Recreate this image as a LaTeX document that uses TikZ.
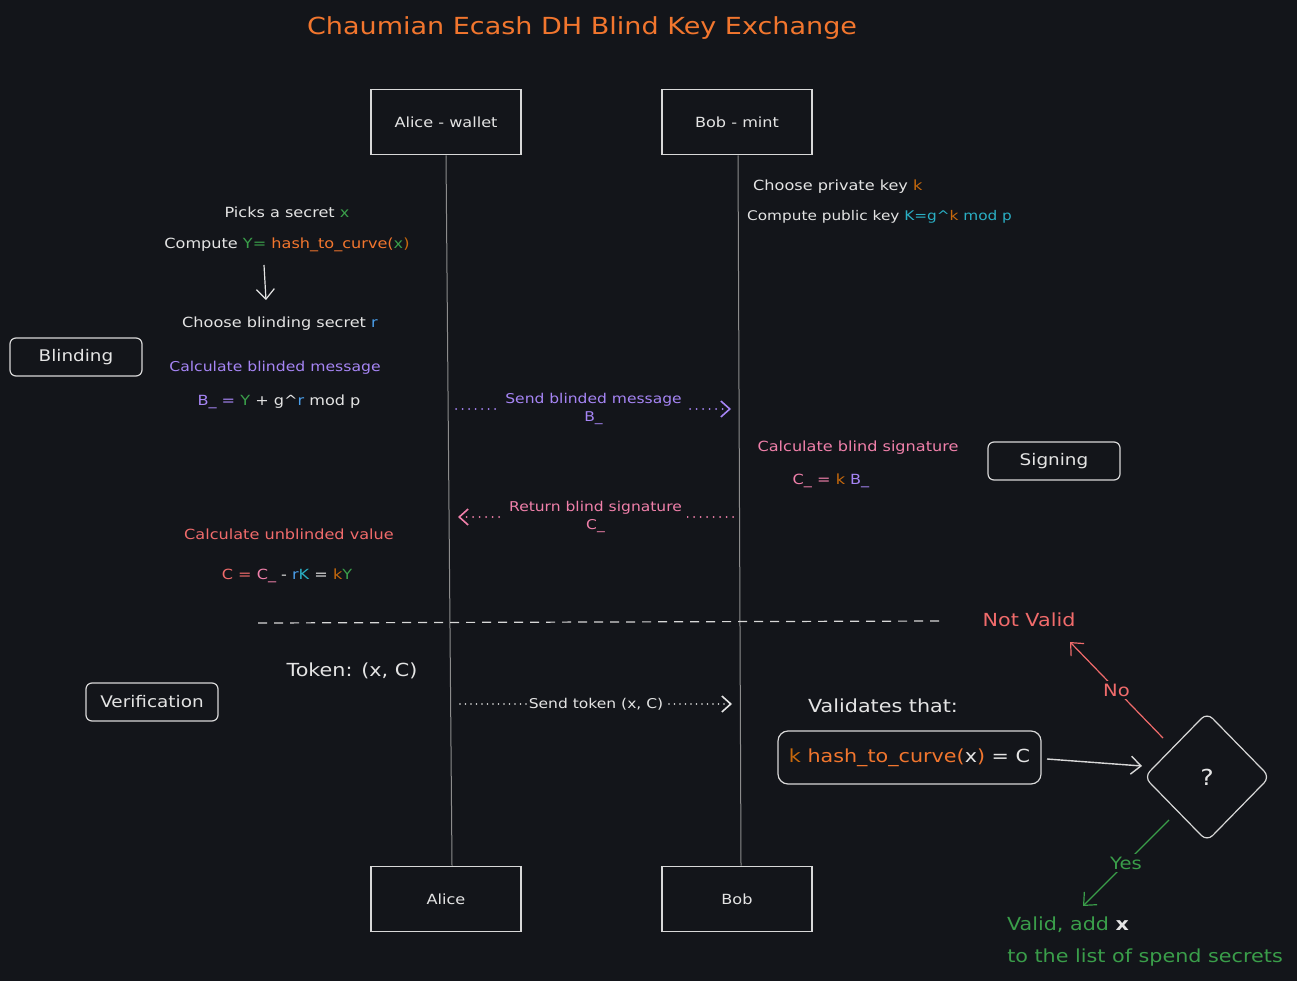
\documentclass[tikz,border=0pt]{standalone}
\usepackage{fontspec}
\setmainfont[FakeStretch=1.15]{DejaVu Sans}
\usetikzlibrary{arrows.meta,shapes.geometric}
\definecolor{bg}{HTML}{13151A}
\definecolor{fg}{HTML}{E4E4E4}
\definecolor{linec}{HTML}{D8D8D8}
\definecolor{lifec}{HTML}{8C8C8C}
\definecolor{orangec}{HTML}{F2762E}
\definecolor{kc}{HTML}{C8690C}
\definecolor{greenc}{HTML}{3A9E4A}
\definecolor{purplec}{HTML}{A685F5}
\definecolor{bluec}{HTML}{4A9EEA}
\definecolor{cyanc}{HTML}{2AAFC4}
\definecolor{pinkc}{HTML}{F080AA}
\definecolor{redc}{HTML}{F06B6B}
\newcommand\fsz[1]{\fontsize{#1}{#1}\selectfont}
\newcommand\crt{\textasciicircum}
\begin{document}
\begin{tikzpicture}[x=1pt,y=-1pt,
  actor/.style={draw=linec, line width=1.6pt, minimum width=150pt, minimum height=65pt, text=fg, font=\fsz{14}},
  phase/.style={draw=linec, rounded corners=6pt, line width=1.2pt, minimum width=132pt, minimum height=38pt, text=fg, font=\fsz{16}},
  txt/.style={text=fg, font=\fsz{14}, inner sep=0pt},
  bigtxt/.style={text=fg, font=\fsz{18}, inner sep=0pt},
  lifeline/.style={draw=lifec, line width=1pt},
  arr/.style={line width=1.4pt, -{Straight Barb[length=10pt,width=18pt]}},
  dotarr/.style={line width=2pt, line cap=round, dash pattern=on 0pt off 6.5pt, -{Straight Barb[length=9pt,width=16pt,line width=1.6pt]}},
  lbl/.style={fill=bg, inner xsep=5pt, inner ysep=1pt, font=\fontsize{13.5}{18}\selectfont, align=center}
]
\fill[bg] (0,0) rectangle (1297,981);
\useasboundingbox (0,0) rectangle (1297,981);

% title
\node[text=orangec, font=\fsz{23.5}, inner sep=0pt] (title) at (582,28) {Chaumian Ecash DH Blind Key Exchange};

% actors
\node[actor] (aw) at (446,122) {Alice - wallet};
\node[actor] (bm) at (737,122) {Bob - mint};
\node[actor] (a) at (446,899) {Alice};
\node[actor] (b) at (737,899) {Bob};
\draw[lifeline] (aw.south) -- ([xshift=6pt]a.north);
\draw[lifeline] ([xshift=1pt]bm.south) -- ([xshift=4pt]b.north);

% phases
\node[phase] (blind) at (76,357) {Blinding};
\node[phase] (sign) at (1054,461) {Signing};
\node[phase] (verif) at (152,702) {Verification};

% Alice blinding steps
\node[txt] (pick) at (287,212) {Picks a secret \textcolor{greenc}{x}};
\node[txt] (comp) at (287,245) {Compute \textcolor{greenc}{Y=} \textcolor{orangec}{hash\_to\_curve(}\textcolor{greenc}{x}\textcolor{kc}{)}};
\node[txt] (chr) at (280,324) {Choose blinding secret \textcolor{bluec}{r}};
\coordinate (d1) at (264,265);
\coordinate (d2) at (266,300);
\draw[arr, draw=fg, line width=1.2pt] (d1) -- (d2);
\node[txt, text=purplec, font=\fsz{13.6}] (cbm) at (275,368) {Calculate blinded message};
\node[txt] (beq) at (279,402) {\textcolor{purplec}{B\_ =} \textcolor{greenc}{Y} + g\crt{}\textcolor{bluec}{r} mod p};

% Bob keys
\node[txt, anchor=west] (priv) at (753,187) {Choose private key \textcolor{kc}{k}};
\node[txt, anchor=west, font=\fsz{13.3}] (pub) at (747,217) {Compute public key \textcolor{cyanc}{K=g\crt{}}\textcolor{kc}{k} \textcolor{cyanc}{mod p}};

% send blinded message
\coordinate (s1a) at (456,409);
\coordinate (s1b) at (731,409);
\draw[dotarr, draw=purplec] (s1a) -- node[lbl, text=purplec] (sbm) {Send blinded message\\B\_} (s1b);

% signing
\node[txt, text=pinkc] (cbs) at (858,448) {Calculate blind signature};
\node[txt] (ceq) at (831,481) {\textcolor{pinkc}{C\_ =} \textcolor{kc}{k} \textcolor{purplec}{B\_}};

% return blind signature
\coordinate (r1a) at (733,517);
\coordinate (r1b) at (458,517);
\draw[dotarr, draw=pinkc] (r1a) -- node[lbl, text=pinkc] (rbs) {Return blind signature\\C\_} (r1b);

% unblinding
\node[txt, text=redc] (cuv) at (289,534) {Calculate unblinded value};
\node[txt] (ueq) at (287,576) {\textcolor{redc}{C =} \textcolor{pinkc}{C\_} - \textcolor{bluec}{r}\textcolor{cyanc}{K} = \textcolor{kc}{k}\textcolor{greenc}{Y}};

% separator
\coordinate (sep1) at (258,623);
\coordinate (sep2) at (942,621);
\draw[draw=linec, line width=1.2pt, dash pattern=on 9pt off 7pt] (sep1) -- (sep2);

% verification
\node[bigtxt] (tok) at (352,671) {Token: (x, C)};
\coordinate (t1a) at (460,704);
\coordinate (t1b) at (732,704);
\draw[dotarr, draw=fg, line width=1.6pt, dash pattern=on 0pt off 5.5pt] (t1a) -- node[lbl, text=fg, inner xsep=2pt] (stk) {Send token (x, C)} (t1b);

\node[bigtxt] (valt) at (883,706) {Validates that:};
\node[draw=linec, line width=1.2pt, rounded corners=10pt, minimum width=263pt, minimum height=53pt, font=\fsz{18}] (vbox) at (909.5,757.5)
  {\textcolor{kc}{k} \textcolor{orangec}{hash\_to\_curve(}\textcolor{fg}{x}\textcolor{orangec}{)} \textcolor{fg}{= C}};
\node[diamond, draw=linec, line width=1.2pt, rounded corners=8pt, minimum width=126pt, minimum height=129pt, inner sep=0pt, text=fg, font=\fsz{22}] (dia) at (1207,777) {?};
\coordinate (v1) at (1047,759);
\coordinate (v2) at (1142,766);
\draw[arr, draw=linec] (v1) -- (v2);

% outcomes
\node[bigtxt, text=redc] (nv) at (1029,620) {Not Valid};
\coordinate (n1) at (1163,738);
\coordinate (n2) at (1070,642);
\draw[arr, draw=redc, line width=1.2pt] (n1) -- node[fill=bg, text=redc, font=\fsz{17}, inner sep=3pt] (no) {No} (n2);

\coordinate (y1) at (1169,820);
\coordinate (y2) at (1083,906);
\draw[arr, draw=greenc, line width=1.2pt] (y1) -- node[fill=bg, text=greenc, font=\fsz{17}, inner sep=3pt] (yes) {Yes} (y2);
\node[bigtxt, text=greenc] (vadd) at (1068,925) {Valid, add \textcolor{fg}{\textbf{x}}};
\node[bigtxt, text=greenc] (vlist) at (1145,958) {to the list of spend secrets};
\end{tikzpicture}
\end{document}
